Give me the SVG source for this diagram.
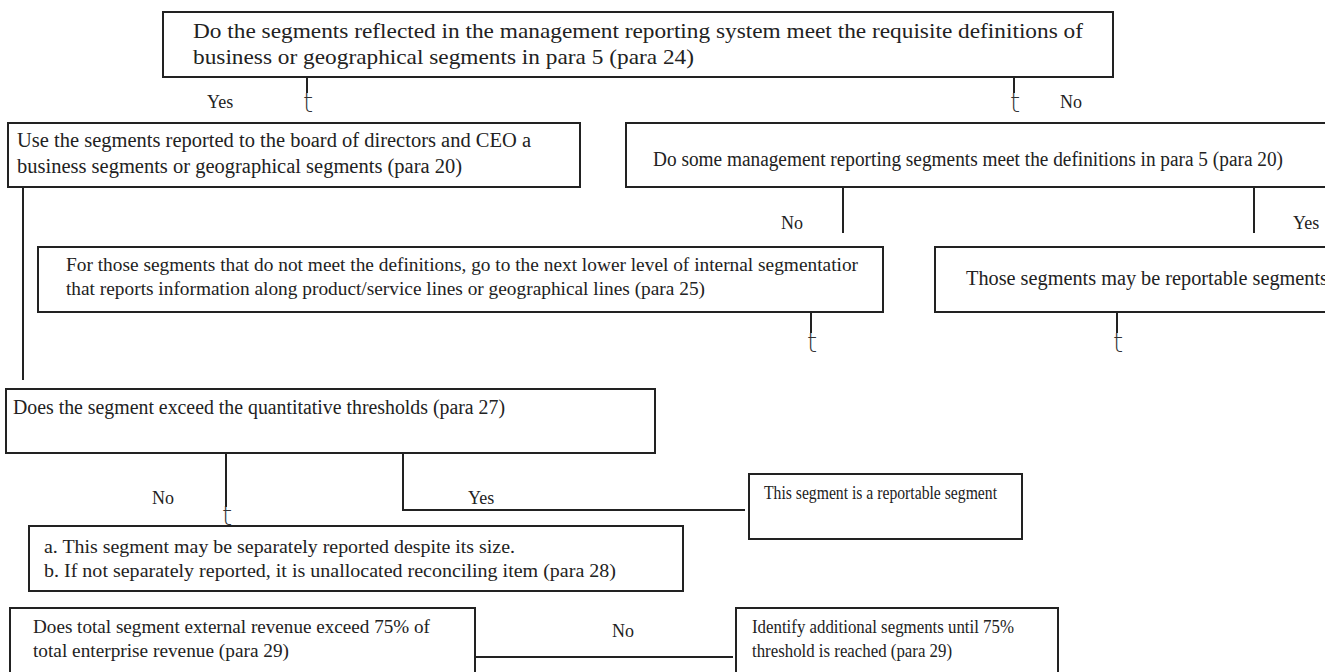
<svg xmlns="http://www.w3.org/2000/svg" width="1325" height="672" viewBox="0 0 1325 672">
<style>
.box{fill:#fff;stroke:#222;stroke-width:2}
.t{font-family:"Liberation Serif","Times New Roman",serif;fill:#222}
.l{fill:none;stroke:#222;stroke-width:2}
.ah{font-family:"DejaVu Sans",sans-serif;font-size:26px;font-weight:200;fill:#333}
</style>
<rect width="1325" height="672" fill="#fff"/>
<g id="connectors">
<path class="l" d="M307 77V93"/>
<path class="l" d="M1014 77V93"/>
<path class="l" d="M23 187V380"/>
<path class="l" d="M843 187V233"/>
<path class="l" d="M1254 187V233"/>
<path class="l" d="M811 312V333"/>
<path class="l" d="M1117 312V333"/>
<path class="l" d="M226 453V507"/>
<path class="l" d="M403 453V510H745"/>
<path class="l" d="M475 657H733"/>
<text class="ah" x="303" y="112">t</text>
<text class="ah" x="1010" y="112">t</text>
<text class="ah" x="807" y="352">t</text>
<text class="ah" x="1113" y="352">t</text>
<text class="ah" x="222" y="525">t</text>
<text class="t" x="207" y="108" font-size="18">Yes</text>
<text class="t" x="1060" y="108" font-size="18">No</text>
<text class="t" x="781" y="229" font-size="18">No</text>
<text class="t" x="1293" y="229" font-size="18">Yes</text>
<text class="t" x="152" y="504" font-size="18">No</text>
<text class="t" x="468" y="504" font-size="18">Yes</text>
<text class="t" x="612" y="637" font-size="18">No</text>
</g>
<g id="n1">
<rect class="box" x="163" y="12" width="950" height="65"/>
<text class="t" x="193" y="38" font-size="22" textLength="890" lengthAdjust="spacingAndGlyphs">Do the segments reflected in the management reporting system meet the requisite definitions of</text>
<text class="t" x="193" y="64" font-size="22" textLength="501" lengthAdjust="spacingAndGlyphs">business or geographical segments in para 5 (para 24)</text>
</g>
<g id="n2">
<rect class="box" x="8" y="123" width="572" height="64"/>
<text class="t" x="17" y="147" font-size="20" textLength="514" lengthAdjust="spacingAndGlyphs">Use the segments reported to the board of directors and CEO a</text>
<text class="t" x="17" y="173" font-size="20" textLength="445" lengthAdjust="spacingAndGlyphs">business segments or geographical segments (para 20)</text>
</g>
<g id="n3">
<rect class="box" x="626" y="123" width="710" height="64"/>
<text class="t" x="653" y="166" font-size="20" textLength="630" lengthAdjust="spacingAndGlyphs">Do some management reporting segments meet the definitions in para 5 (para 20)</text>
</g>
<g id="n4">
<rect class="box" x="38" y="247" width="845" height="65"/>
<text class="t" x="66" y="271" font-size="19.5" textLength="792" lengthAdjust="spacingAndGlyphs">For those segments that do not meet the definitions, go to the next lower level of internal segmentatior</text>
<text class="t" x="66" y="295" font-size="19.5" textLength="639" lengthAdjust="spacingAndGlyphs">that reports information along product/service lines or geographical lines (para 25)</text>
</g>
<g id="n5">
<rect class="box" x="935" y="247" width="400" height="65"/>
<text class="t" x="966" y="285" font-size="20" textLength="362" lengthAdjust="spacingAndGlyphs">Those segments may be reportable segments</text>
</g>
<g id="n6">
<rect class="box" x="6" y="389" width="649" height="64"/>
<text class="t" x="13" y="414" font-size="20" textLength="492" lengthAdjust="spacingAndGlyphs">Does the segment exceed the quantitative thresholds (para 27)</text>
</g>
<g id="n7">
<rect class="box" x="749" y="474" width="273" height="65"/>
<text class="t" x="764" y="499" font-size="18.5" textLength="233" lengthAdjust="spacingAndGlyphs">This segment is a reportable segment</text>
</g>
<g id="n8">
<rect class="box" x="29" y="526" width="654" height="65"/>
<text class="t" x="44" y="553" font-size="19.5" textLength="471" lengthAdjust="spacingAndGlyphs">a.  This segment may be separately reported despite its size.</text>
<text class="t" x="44" y="577" font-size="19.5" textLength="572" lengthAdjust="spacingAndGlyphs">b.  If not separately reported, it is unallocated reconciling item (para 28)</text>
</g>
<g id="n9">
<rect class="box" x="10" y="608" width="465" height="80"/>
<text class="t" x="33" y="633" font-size="19.5" textLength="397" lengthAdjust="spacingAndGlyphs">Does total segment external revenue exceed 75% of</text>
<text class="t" x="33" y="657" font-size="19.5" textLength="256" lengthAdjust="spacingAndGlyphs">total enterprise revenue (para 29)</text>
</g>
<g id="n10">
<rect class="box" x="736" y="608" width="322" height="80"/>
<text class="t" x="752" y="633" font-size="19" textLength="262" lengthAdjust="spacingAndGlyphs">Identify additional segments until 75%</text>
<text class="t" x="752" y="657" font-size="19" textLength="200" lengthAdjust="spacingAndGlyphs">threshold is reached (para 29)</text>
</g>
</svg>
